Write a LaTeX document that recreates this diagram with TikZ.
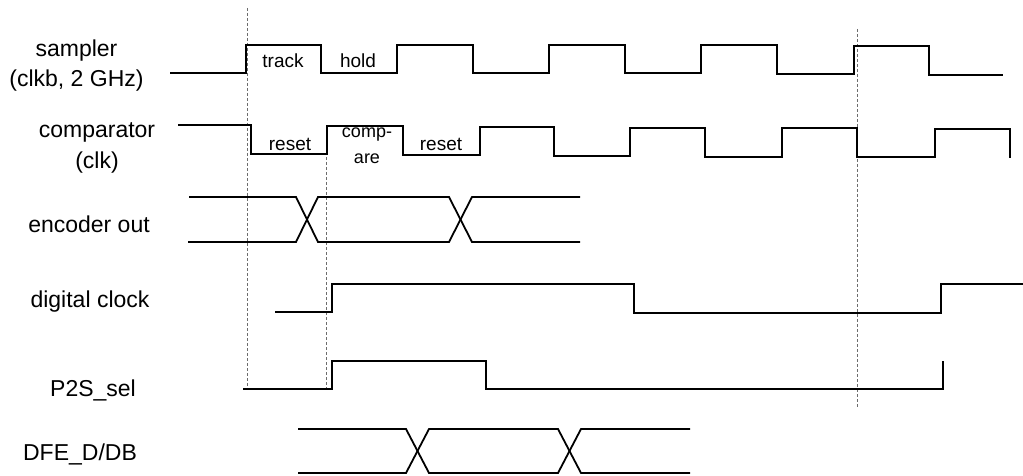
\documentclass[tikz,border=0pt]{standalone}
\usepackage{fontspec}
\setmainfont{Liberation Sans}
\begin{document}
\begin{tikzpicture}[x=1pt,y=-1pt,
  wave/.style={line width=1.8pt,line join=miter,black},
  guide/.style={line width=0.9pt,gray!85!black,dash pattern=on 3pt off 2pt},
  siglabel/.style={font=\fontsize{23}{30}\selectfont,align=center,anchor=base,inner sep=0pt},
  phaselabel/.style={font=\fontsize{19}{24}\selectfont,align=center,anchor=base,inner sep=0pt}]
\useasboundingbox (0,0) rectangle (1023,476);

% guide lines
\draw[guide] (247,8) -- (247,389);
\draw[guide] (326,127) -- (326,389);
\draw[guide] (857,29) -- (857,408);

% sampler
\draw[wave] (170,73) -| (246,45) -| (321,73) -| (397,45) -| (473,73) -| (549,45) -| (625,73) -| (701,45) -| (777,74) -| (854,46) -| (929,75) -- (1003,75);
% comparator
\draw[wave] (178,125) -| (251,154) -| (327,126) -| (403,155) -| (480,127) -| (554,156) -| (630,128) -| (705,157) -| (782,128) -| (857,157) -| (935,129) -| (1010,158);
% encoder out
\draw[wave] (189,197) -- (296,197) -- (318,242) -- (449,242) -- (472,197) -- (580,197);
\draw[wave] (188,242) -- (296,242) -- (318,197) -- (449,197) -- (472,242) -- (580,242);
% digital clock
\draw[wave] (275,312) -| (332,284) -| (634,313) -| (941,284) -- (1023,284);
% P2S_sel
\draw[wave] (243,389) -| (332,361) -| (486,389) -| (943,361);
% DFE_D/DB
\draw[wave] (298,429) -- (406,429) -- (429,473) -- (558,473) -- (581,429) -- (690,429);
\draw[wave] (298,473) -- (406,473) -- (429,429) -- (558,429) -- (581,473) -- (690,473);

% signal labels
\node[siglabel] (lsamp) at (76.5,87) {sampler\\(clkb, 2 GHz)};
\node[siglabel,font=\fontsize{23}{31}\selectfont] (lcomp) at (97,168) {comparator\\(clk)};
\node[siglabel] (lenc) at (89,232) {encoder out};
\node[siglabel] (ldig) at (90,307) {digital clock};
\node[siglabel] (lp2s) at (93,396) {P2S\_sel};
\node[siglabel] (ldfe) at (80,460) {DFE\_D/DB};

% phase labels
\node[phaselabel] (ptrack) at (283,68) {track};
\node[phaselabel] (phold) at (358,68) {hold};
\node[phaselabel] (preset1) at (290,150) {reset};
\node[phaselabel,font=\fontsize{18}{26}\selectfont] (pcomp) at (367,164) {comp-\\are};
\node[phaselabel] (preset2) at (441,150) {reset};
\end{tikzpicture}
\end{document}
